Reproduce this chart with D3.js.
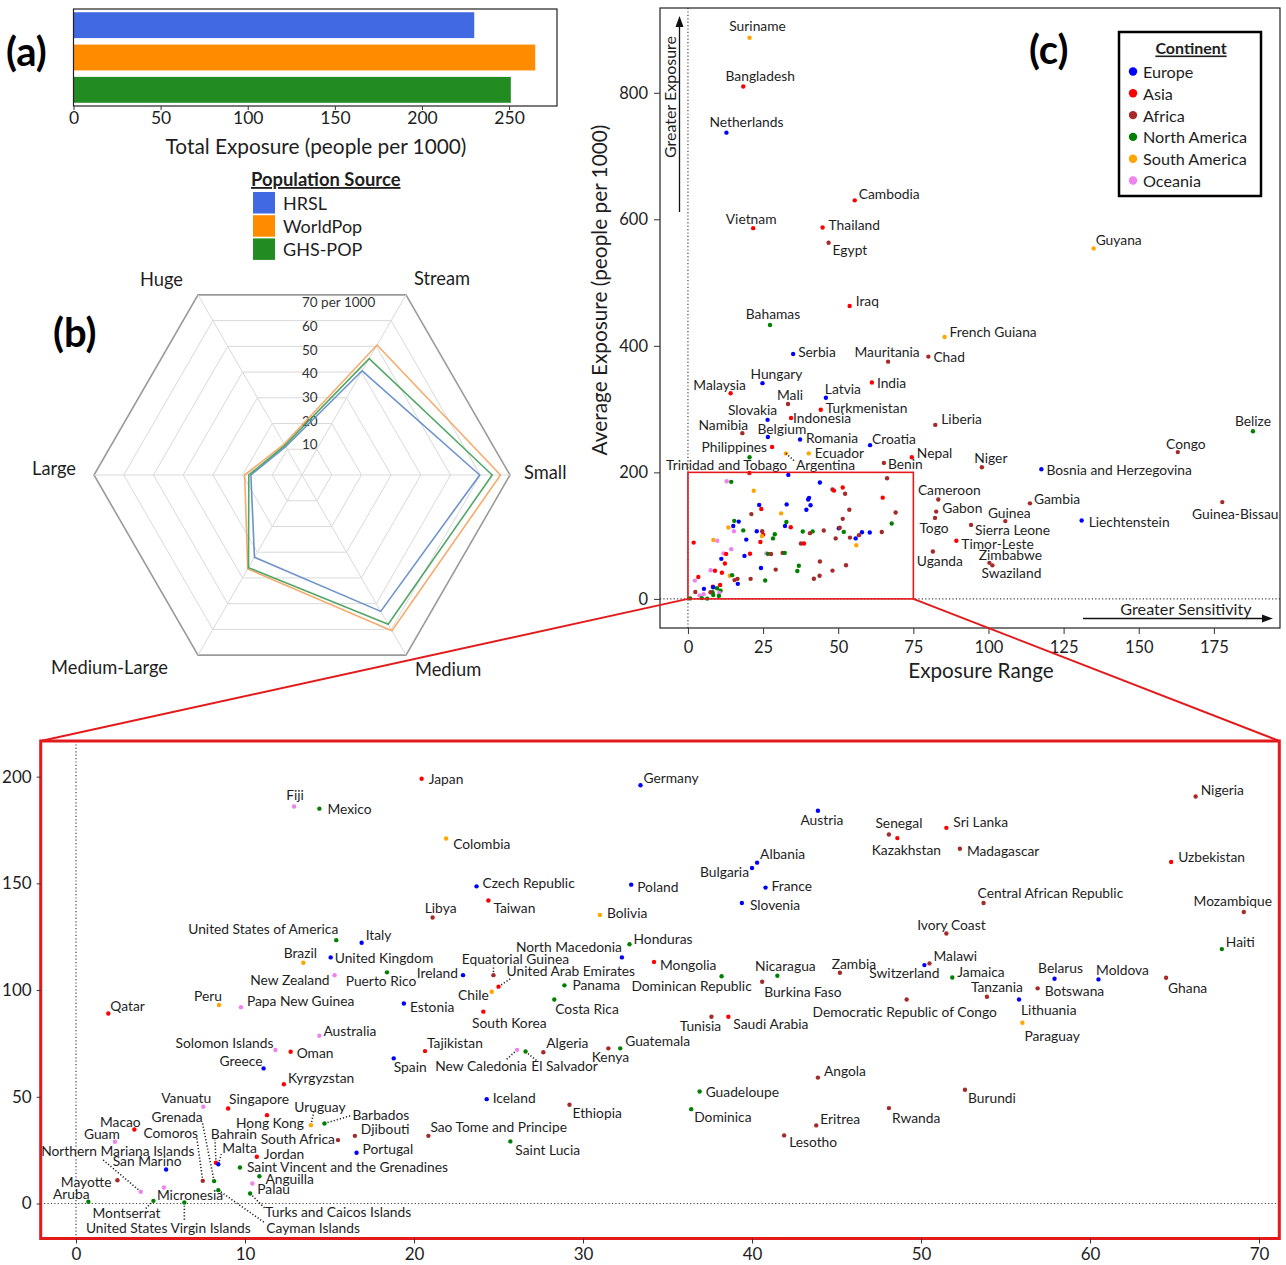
<!DOCTYPE html>
<html>
<head>
<meta charset="utf-8">
<script src="https://cdn.jsdelivr.net/npm/d3@7"></script>
<style>
  body { margin: 0; background: #fff; }
  svg text { font-family: Lato, "Open Sans", sans-serif; }
</style>
</head>
<body>
<svg id="fig" width="1286" height="1265"></svg>
<script>
// ---------- data ----------
var sources = ["HRSL", "WorldPop", "GHS-POP"];
var totalExposure = [230, 265, 251];
var sourceColors = ["#4169e1", "#ff8c00", "#228b22"];

var radarAxes = ["Stream", "Small", "Medium", "Medium-Large", "Large", "Huge"];
var radarTicks = [10, 20, 30, 40, 50, 60, 70];
var radarHRSL = [40.5, 59.8, 53, 32, 17.2, 11];
var radarWorldPop = [50.5, 66.8, 60.5, 36.5, 19.3, 12];
var radarGHS = [45.2, 64, 58, 36, 17.9, 11.5];

var continents = ["Europe", "Asia", "Africa", "North America", "South America", "Oceania"];
var contCodes = ["E", "A", "F", "N", "S", "O"];
var contColors = ["#0000ff", "#ff0000", "#a52a2a", "#008000", "#ffa500", "#ee82ee"];

// [name, continent, exposure range, average exposure]
var outerCountries = [
  ["Suriname","S",20.5,887], ["Bangladesh","A",18.4,810], ["Netherlands","E",12.8,737],
  ["Cambodia","A",55.5,630], ["Vietnam","A",21.7,586], ["Thailand","A",44.8,587],
  ["Egypt","F",46.8,563], ["Guyana","S",135,554], ["Iraq","A",53.8,463],
  ["Bahamas","N",27.3,433], ["French Guiana","S",85.4,414], ["Serbia","E",35,387],
  ["Mauritania","F",66.6,375], ["Chad","F",80,383], ["Hungary","E",24.8,341],
  ["Malaysia","A",14.2,325], ["India","A",61.2,342], ["Mali","F",33.3,308],
  ["Latvia","E",45.9,318], ["Turkmenistan","A",44.2,299], ["Slovakia","E",26.5,283],
  ["Indonesia","A",34.3,286], ["Namibia","F",18.1,262], ["Belgium","E",26.6,256],
  ["Liberia","F",82.3,275], ["Belize","N",188,265], ["Romania","E",37.3,252],
  ["Croatia","E",60.6,243], ["Philippines","A",28,240], ["Congo","F",163,232],
  ["Nepal","A",74.5,224], ["Ecuador","S",40.2,230], ["Trinidad and Tobago","N",20.5,224],
  ["Argentina","S",32.6,230], ["Niger","F",97.8,208], ["Benin","F",65.2,215],
  ["Bosnia and Herzegovina","E",117.6,205], ["Cameroon","F",83.3,157], ["Gambia","F",113.8,151],
  ["Guinea-Bissau","F",177.8,153], ["Gabon","F",82.6,138], ["Guinea","F",105.6,123],
  ["Liechtenstein","E",131,124], ["Togo","F",82.2,128], ["Sierra Leone","F",94.2,117],
  ["Timor-Leste","A",89.3,92], ["Uganda","F",81.5,75], ["Zimbabwe","F",100.3,57],
  ["Swaziland","F",101.3,53]
];

var insetCountries = [
  ["Japan","A",20.45,199], ["Fiji","O",12.9,186], ["Mexico","N",14.4,185],
  ["Libya","F",21.1,134], ["United States of America","N",15.4,123.4], ["Italy","E",16.9,122.2],
  ["Brazil","S",13.45,112.8], ["United Kingdom","E",15.07,115.3], ["New Zealand","O",15.3,107],
  ["Puerto Rico","N",18.4,108.3], ["Ireland","E",22.9,107], ["Qatar","A",1.91,89],
  ["Peru","S",8.46,93], ["Papa New Guinea","O",9.76,92], ["Estonia","E",19.4,93.7],
  ["Australia","O",14.4,78.6], ["Solomon Islands","O",11.8,71.9], ["Oman","A",12.7,71.1],
  ["Tajikistan","A",20.65,71.4], ["Greece","E",11.1,63.3], ["Spain","E",18.8,68],
  ["Kyrgyzstan","A",12.3,55.9], ["Vanuatu","O",7.53,45.3], ["Singapore","A",9.0,44.5],
  ["Uruguay","S",13.9,36.7], ["Barbados","N",14.7,37.5], ["Macao","A",3.45,34.7],
  ["Grenada","N",8.17,10.5], ["Comoros","F",7.5,10.6], ["Bahrain","A",8.28,19.1],
  ["Malta","E",8.42,18.4], ["Hong Kong","A",11.3,41.4], ["Guam","O",2.3,28.9],
  ["South Africa","F",15.5,29.7], ["Djibouti","F",16.5,31.7], ["Sao Tome and Principe","F",20.85,31.7],
  ["Northern Mariana Islands","O",3.83,5.5], ["Jordan","A",10.7,21.9], ["Portugal","E",16.6,23.75],
  ["San Marino","E",5.33,15.9], ["Saint Vincent and the Grenadines","N",9.7,16.9], ["Mayotte","F",2.45,10.9],
  ["Anguilla","N",10.85,12.8], ["Palau","O",10.43,9.4], ["Aruba","N",0.73,0.8],
  ["Micronesia","O",5.2,7.5], ["Montserrat","N",4.58,1.25], ["United States Virgin Islands","N",6.41,0.5],
  ["Turks and Caicos Islands","N",10.3,4.7], ["Cayman Islands","N",8.42,6.25], ["Germany","E",33.4,196],
  ["Austria","E",43.9,184], ["Colombia","S",21.9,171], ["Albania","E",40.3,159.7],
  ["Bulgaria","E",40.0,157.2], ["Czech Republic","E",23.7,148.6], ["Poland","E",32.85,149.4],
  ["France","E",40.8,148], ["Slovenia","E",39.4,140.8], ["Taiwan","A",24.4,142],
  ["Bolivia","S",31.0,135.2], ["Honduras","N",32.75,121.5], ["North Macedonia","E",32.3,115.3],
  ["Mongolia","A",34.2,113.2], ["Equatorial Guinea","F",24.7,107], ["United Arab Emirates","A",25.0,101.6],
  ["Chile","S",24.6,99.2], ["Panama","N",28.9,102.2], ["Dominican Republic","N",38.2,106.5],
  ["Nicaragua","N",41.5,106.7], ["Burkina Faso","F",40.6,103.9], ["Zambia","F",45.2,108.1],
  ["Costa Rica","N",28.3,95.6], ["South Korea","A",24.1,89.9], ["Tunisia","F",37.6,87.5],
  ["Saudi Arabia","A",38.6,87.5], ["New Caledonia","O",26.1,72], ["El Salvador","N",26.6,71.2],
  ["Algeria","F",27.65,70.9], ["Kenya","F",31.5,72.7], ["Guatemala","N",32.2,72.7],
  ["Iceland","E",24.3,48.9], ["Ethiopia","F",29.2,46.3], ["Guadeloupe","N",36.9,52.5],
  ["Dominica","N",36.4,44.2], ["Angola","F",43.9,59], ["Eritrea","F",43.8,36.6],
  ["Lesotho","F",41.9,31.9], ["Saint Lucia","N",25.7,29.1], ["Nigeria","F",66.25,190.7],
  ["Senegal","F",48.1,172.9], ["Kazakhstan","A",48.6,171.2], ["Sri Lanka","A",51.5,176],
  ["Madagascar","F",52.3,166.2], ["Uzbekistan","A",64.8,160], ["Central African Republic","F",53.7,140.8],
  ["Mozambique","F",69.1,136.6], ["Ivory Coast","F",51.5,126.5], ["Haiti","N",67.8,119.2],
  ["Switzerland","E",50.2,111.7], ["Malawi","F",50.5,112.5], ["Jamaica","N",51.85,105.9],
  ["Belarus","E",57.9,105.3], ["Moldova","E",60.5,105], ["Ghana","F",64.5,105.8],
  ["Botswana","F",56.9,100.8], ["Democratic Republic of Congo","F",49.15,95.6], ["Tanzania","F",53.9,96.9],
  ["Lithuania","E",55.8,95.6], ["Paraguay","S",56.0,84.7], ["Burundi","F",52.6,53.3],
  ["Rwanda","F",48.1,44.7]
];

// label placement: anchor, dx, dy, optional leader end dx, dy (pixels from the dot)
var labelPos = {
  "Suriname":"m 8 -12", "Bangladesh":"m 17 -11", "Netherlands":"m 20 -11", "Cambodia":"s 4 -7",
  "Vietnam":"m -2 -10", "Thailand":"s 6 -3", "Egypt":"s 4 7", "Guyana":"s 2 -9", "Iraq":"s 6 -5",
  "Bahamas":"m 3 -11", "French Guiana":"s 5 -5", "Serbia":"s 5 -3", "Mauritania":"m -1 -10",
  "Chad":"s 5 0", "Hungary":"m 14 -10", "Malaysia":"m -11 -9", "India":"s 5 0", "Mali":"m 2 -10",
  "Latvia":"m 17 -9", "Turkmenistan":"s 5 -2", "Slovakia":"m -15 -10", "Indonesia":"s 2 0",
  "Namibia":"m -19 -9", "Belgium":"m 14 -8", "Liberia":"s 6 -6", "Belize":"m 0 -11",
  "Romania":"s 6 -2", "Croatia":"s 2 -7", "Philippines":"e -5 -1", "Congo":"m 8 -9",
  "Nepal":"s 5 -5", "Ecuador":"s 6 -1", "Trinidad and Tobago":"m -23 7", "Argentina":"s 10 11 9 8",
  "Niger":"m 9 -10", "Benin":"s 4 1", "Bosnia and Herzegovina":"s 5 0", "Cameroon":"m 11 -10",
  "Gambia":"s 4 -5", "Guinea-Bissau":"m 13 11", "Gabon":"s 6 -4", "Guinea":"m 4 -9",
  "Liechtenstein":"s 7 1", "Togo":"m -1 10", "Sierra Leone":"s 4 5", "Timor-Leste":"s 5 3",
  "Uganda":"m 7 9", "Zimbabwe":"m 21 -8", "Swaziland":"m 19 7",

  "Japan":"s 7 0", "Fiji":"m 1 -12", "Mexico":"s 8 0", "Libya":"m 8 -10",
  "United States of America":"e 2 -12", "Italy":"s 4 -8", "Brazil":"m -3 -10", "United Kingdom":"s 4 0",
  "New Zealand":"e -5 4", "Puerto Rico":"m -6 8", "Ireland":"e -5 -3", "Qatar":"s 2 -8",
  "Peru":"m -11 -10", "Papa New Guinea":"s 6 -7", "Estonia":"s 6 3", "Australia":"s 4 -5",
  "Solomon Islands":"e -2 -8", "Oman":"s 6 1", "Tajikistan":"s 2 -9", "Greece":"e -1 -8",
  "Spain":"s 0 8", "Kyrgyzstan":"s 4 -7", "Vanuatu":"m -17 -9", "Singapore":"m 31 -10",
  "Hong Kong":"m 3 7", "Uruguay":"m 9 -19 3 -14", "Barbados":"s 28 -9 27 -8", "Macao":"m -14 -8",
  "Guam":"m -13 -8", "Grenada":"m -37 -65 -12 -60", "Comoros":"m -32 -48 -6 -43",
  "Bahrain":"m 18 -29 -1 -23", "Malta":"s 4 -17 3 -10", "South Africa":"e -3 -2",
  "Djibouti":"s 6 -7", "Sao Tome and Principe":"s 2 -9", "Northern Mariana Islands":"m -23 -41 -39 -33",
  "Jordan":"s 7 -3", "Portugal":"s 6 -4", "San Marino":"m -19 -9",
  "Saint Vincent and the Grenadines":"s 7 -1", "Mayotte":"e -6 1", "Anguilla":"s 6 2",
  "Palau":"s 5 5", "Aruba":"m -17 -8", "Micronesia":"s -7 7", "Montserrat":"m -27 12 -8 8",
  "United States Virgin Islands":"m -16 25 0 19", "Turks and Caicos Islands":"s 15 18 15 15",
  "Cayman Islands":"s 48 37 47 33", "Germany":"s 3 -8", "Austria":"m 4 9", "Colombia":"s 7 5",
  "Albania":"s 3 -9", "Bulgaria":"e -3 4", "Czech Republic":"s 6 -4", "Poland":"s 6 2",
  "France":"s 6 -2", "Slovenia":"s 8 2", "Taiwan":"s 5 7", "Bolivia":"s 7 -2", "Honduras":"s 4 -6",
  "North Macedonia":"e 0 -11", "Mongolia":"s 6 3", "Equatorial Guinea":"m 22 -17 0 -10",
  "United Arab Emirates":"s 8 -16 12 -8", "Chile":"e -3 3", "Panama":"s 8 -1",
  "Dominican Republic":"m -30 9", "Nicaragua":"m 8 -10", "Burkina Faso":"s 2 10", "Zambia":"m 14 -9",
  "Costa Rica":"s 1 9", "South Korea":"m 26 11", "Tunisia":"m -11 9", "Saudi Arabia":"s 5 7",
  "New Caledonia":"m -36 16 -11 10", "El Salvador":"m 39 14 11 9", "Algeria":"s 3 -10",
  "Kenya":"m 2 8", "Guatemala":"s 5 -8", "Iceland":"s 6 -2", "Ethiopia":"s 3 8",
  "Guadeloupe":"s 6 0", "Dominica":"s 3 7", "Angola":"s 6 -7", "Eritrea":"s 4 -7",
  "Lesotho":"s 5 6", "Saint Lucia":"s 5 8", "Nigeria":"s 5 -7", "Senegal":"m 10 -12",
  "Kazakhstan":"m 9 11", "Sri Lanka":"s 7 -6", "Madagascar":"s 7 2", "Uzbekistan":"s 7 -6",
  "Central African Republic":"s -6 -10", "Mozambique":"m -11 -11", "Ivory Coast":"m 5 -9",
  "Haiti":"s 4 -8", "Switzerland":"m -20 7", "Malawi":"s 4 -8", "Jamaica":"s 5 -6",
  "Belarus":"m 6 -11", "Moldova":"m 24 -10", "Ghana":"s 2 10", "Botswana":"s 7 2",
  "Democratic Republic of Congo":"m -2 12", "Tanzania":"m 10 -10", "Lithuania":"s 2 10",
  "Paraguay":"s 2 13", "Burundi":"s 3 8", "Rwanda":"s 3 9"
};

// ---------- drawing ----------
var svg = d3.select("#fig");
svg.append("rect").attr("width", 1286).attr("height", 1265).attr("fill", "#fff");
var INK = "#1e1e1e";
var LABEL = 13.8;
var colorOf = d3.scaleOrdinal().domain(contCodes).range(contColors);
var anchorOf = { s: "start", m: "middle", e: "end" };

function styleAxis(g, size) {
  g.attr("font-family", "Lato, 'Open Sans', sans-serif").attr("font-size", size);
  g.selectAll("text").attr("fill", INK);
  g.selectAll(".tick line").attr("stroke", "#333");
  g.select(".domain").remove();
}

function panelLetter(txt, x, y) {
  svg.append("text").attr("x", x).attr("y", y).attr("font-size", 40)
    .attr("font-weight", "bold").attr("fill", "#000").text(txt);
}

// ---- (a) bar chart ----
var xA = d3.scaleLinear().domain([0, 277.5]).range([73.5, 557]);
var yA = d3.scaleBand().domain(sources).range([9, 106]).paddingInner(0.2).paddingOuter(0.1);

svg.append("g").selectAll("rect").data(sources).enter().append("rect")
  .attr("x", xA(0))
  .attr("y", function(d) { return yA(d); })
  .attr("width", function(d, i) { return xA(totalExposure[i]) - xA(0); })
  .attr("height", yA.bandwidth())
  .attr("fill", function(d, i) { return sourceColors[i]; });

svg.append("rect").attr("x", 73.5).attr("y", 9).attr("width", 557 - 73.5).attr("height", 97)
  .attr("fill", "none").attr("stroke", "#222").attr("stroke-width", 1.2);

var axA = svg.append("g").attr("transform", "translate(0,106)")
  .call(d3.axisBottom(xA).tickValues([0, 50, 100, 150, 200, 250]).tickSize(4).tickPadding(2));
styleAxis(axA, 17.5);

svg.append("text").attr("x", 316).attr("y", 154).attr("text-anchor", "middle")
  .attr("font-size", 20.8).attr("fill", INK).text("Total Exposure (people per 1000)");

panelLetter("(a)", 6, 66);

// legend of sources
svg.append("text").attr("x", 251).attr("y", 186).attr("font-size", 18.4).attr("font-weight", "bold")
  .attr("text-decoration", "underline").attr("fill", INK).text("Population Source");
var legA = svg.append("g").selectAll("g").data(sources).enter().append("g")
  .attr("transform", function(d, i) { return "translate(253," + (192 + i * 23.2) + ")"; });
legA.append("rect").attr("width", 22).attr("height", 21.5)
  .attr("fill", function(d, i) { return sourceColors[i]; });
legA.append("text").attr("x", 30).attr("y", 11).attr("dominant-baseline", "central")
  .attr("font-size", 18).attr("fill", INK).text(function(d) { return d; });

// ---- (b) radar ----
var cx = 302, cy = 475;
var rR = d3.scaleLinear().domain([0, 70]).range([0, 208]);
var angles = radarAxes.map(function(d, i) { return Math.PI / 3 - i * Math.PI / 3; });
function pt(v, i) { return [cx + rR(v) * Math.cos(angles[i]), cy - rR(v) * Math.sin(angles[i])]; }
var lineR = d3.line().curve(d3.curveLinearClosed);

var gB = svg.append("g");
radarTicks.forEach(function(v) {
  gB.append("path").attr("d", lineR(radarAxes.map(function(a, i) { return pt(v, i); })))
    .attr("fill", "none").attr("stroke", v === 70 ? "#9a9a9a" : "#d9d9d9")
    .attr("stroke-width", v === 70 ? 1.6 : 1);
});
radarAxes.forEach(function(a, i) {
  var p = pt(70, i);
  gB.append("line").attr("x1", cx).attr("y1", cy).attr("x2", p[0]).attr("y2", p[1])
    .attr("stroke", "#d9d9d9").attr("stroke-width", 1);
});
radarTicks.forEach(function(v) {
  gB.append("text").attr("x", cx).attr("y", cy - 7 - rR(v) * 0.866 * 0.92)
    .attr("dominant-baseline", "central").attr("font-size", 13.5).attr("fill", "#333")
    .text(v === 70 ? "70 per 1000" : v);
});
var radarSeries = [radarHRSL, radarWorldPop, radarGHS];
var radarColors = ["#5d86c6", "#f5a25d", "#3f9d55"];
radarSeries.forEach(function(s, k) {
  gB.append("path").attr("d", lineR(s.map(function(v, i) { return pt(v, i); })))
    .attr("fill", "none").attr("stroke", radarColors[k]).attr("stroke-width", 1.6)
    .attr("stroke-opacity", 0.9);
});
// axis names, offsets from each outer vertex
var radarLabelOff = [[8, -17, "start"], [14, -3, "start"], [9, 14, "start"],
                     [-30, 12, "end"], [-18, -7, "end"], [-15, -16, "end"]];
radarAxes.forEach(function(a, i) {
  var p = pt(70, i), o = radarLabelOff[i];
  gB.append("text").attr("x", p[0] + o[0]).attr("y", p[1] + o[1]).attr("text-anchor", o[2])
    .attr("dominant-baseline", "central").attr("font-size", 18.3).attr("fill", INK).text(a);
});
panelLetter("(b)", 53, 347);

// ---- scatter helpers ----
function drawDots(g, rows, xs, ys) {
  g.selectAll("circle.pt").data(rows).enter().append("circle").attr("class", "pt")
    .attr("cx", function(d) { return xs(d[2]); })
    .attr("cy", function(d) { return ys(d[3]); })
    .attr("r", 2.2)
    .attr("fill", function(d) { return colorOf(d[1]); });
}
function drawLabels(g, rows, xs, ys) {
  rows.forEach(function(d) {
    var p = (labelPos[d[0]] || "s 5 0").split(" ");
    var x = xs(d[2]), y = ys(d[3]);
    if (p.length > 3) {
      g.append("line").attr("x1", x).attr("y1", y)
        .attr("x2", x + (+p[3])).attr("y2", y + (+p[4]))
        .attr("stroke", "#222").attr("stroke-width", 1.6).attr("stroke-dasharray", "1.2,2");
    }
    g.append("text").attr("x", x + (+p[1])).attr("y", y + (+p[2]))
      .attr("text-anchor", anchorOf[p[0]]).attr("dominant-baseline", "central")
      .attr("font-size", LABEL).attr("fill", INK).text(d[0]);
  });
}

// ---- (c) scatter ----
var xC = d3.scaleLinear().domain([-9.3, 197]).range([660, 1280]);
var yC = d3.scaleLinear().domain([-46, 934]).range([628, 8]);
var gC = svg.append("g");

gC.append("line").attr("x1", xC(0)).attr("x2", xC(0)).attr("y1", 8).attr("y2", 628)
  .attr("stroke", "#444").attr("stroke-width", 1.2).attr("stroke-dasharray", "1.2,2.2");
gC.append("line").attr("x1", 660).attr("x2", 1280).attr("y1", yC(0)).attr("y2", yC(0))
  .attr("stroke", "#444").attr("stroke-width", 1.2).attr("stroke-dasharray", "1.2,2.2");

drawDots(gC.append("g"), outerCountries.concat(insetCountries), xC, yC);
drawLabels(gC.append("g"), outerCountries, xC, yC);

gC.append("rect").attr("x", xC(0)).attr("y", yC(200))
  .attr("width", xC(75) - xC(0)).attr("height", yC(0) - yC(200))
  .attr("fill", "none").attr("stroke", "#e31a1c").attr("stroke-width", 1.6);

gC.append("rect").attr("x", 660).attr("y", 8).attr("width", 620).attr("height", 620)
  .attr("fill", "none").attr("stroke", "#222").attr("stroke-width", 1.2);

var axCy = svg.append("g").attr("transform", "translate(660,0)")
  .call(d3.axisLeft(yC).tickValues([0, 200, 400, 600, 800]).tickSize(6).tickPadding(6));
styleAxis(axCy, 16.5);
var axCx = svg.append("g").attr("transform", "translate(0,628)")
  .call(d3.axisBottom(xC).tickValues(d3.range(0, 176, 25)).tickSize(6).tickPadding(7));
styleAxis(axCx, 16.5);

svg.append("text").attr("x", 981).attr("y", 678).attr("text-anchor", "middle")
  .attr("font-size", 20.7).attr("fill", INK).text("Exposure Range");
svg.append("text").attr("transform", "translate(607,290) rotate(-90)").attr("text-anchor", "middle")
  .attr("font-size", 20.8).attr("fill", INK).text("Average Exposure (people per 1000)");

// direction arrows
svg.append("line").attr("x1", 679.5).attr("x2", 679.5).attr("y1", 212).attr("y2", 24)
  .attr("stroke", "#111").attr("stroke-width", 1.3);
svg.append("path").attr("d", "M679.5,16 L675.5,27 L683.5,27 Z").attr("fill", "#111");
svg.append("text").attr("transform", "translate(676,97) rotate(-90)").attr("text-anchor", "middle")
  .attr("font-size", 16).attr("fill", INK).text("Greater Exposure");
svg.append("line").attr("x1", 1083).attr("x2", 1264).attr("y1", 618.5).attr("y2", 618.5)
  .attr("stroke", "#111").attr("stroke-width", 1.3);
svg.append("path").attr("d", "M1273,618.5 L1262,614.5 L1262,622.5 Z").attr("fill", "#111");
svg.append("text").attr("x", 1186).attr("y", 608).attr("text-anchor", "middle")
  .attr("dominant-baseline", "central").attr("font-size", 16.2).attr("fill", INK).text("Greater Sensitivity");

panelLetter("(c)", 1029, 64);

// continent legend
svg.append("rect").attr("x", 1119).attr("y", 32).attr("width", 142).attr("height", 164)
  .attr("fill", "#fff").attr("stroke", "#000").attr("stroke-width", 2.5);
svg.append("text").attr("x", 1191).attr("y", 47).attr("text-anchor", "middle")
  .attr("dominant-baseline", "central").attr("font-size", 16).attr("font-weight", "bold")
  .attr("text-decoration", "underline").attr("fill", INK).text("Continent");
var legC = svg.append("g").selectAll("g").data(continents).enter().append("g")
  .attr("transform", function(d, i) { return "translate(1133," + (71.5 + i * 21.8) + ")"; });
legC.append("circle").attr("r", 4.2).attr("fill", function(d, i) { return contColors[i]; });
legC.append("text").attr("x", 10).attr("dominant-baseline", "central").attr("font-size", 16.2)
  .attr("fill", INK).text(function(d) { return d; });

// ---- inset ----
var xI = d3.scaleLinear().domain([-2.09, 71.2]).range([40.7, 1279.3]);
var yI = d3.scaleLinear().domain([-16.4, 216.7]).range([1238.5, 741]);
var gI = svg.append("g");

gI.append("line").attr("x1", xI(0)).attr("x2", xI(0)).attr("y1", 741).attr("y2", 1238.5)
  .attr("stroke", "#444").attr("stroke-width", 1.2).attr("stroke-dasharray", "1.2,2.2");
gI.append("line").attr("x1", 40.7).attr("x2", 1279.3).attr("y1", yI(0)).attr("y2", yI(0))
  .attr("stroke", "#444").attr("stroke-width", 1.2).attr("stroke-dasharray", "1.2,2.2");

drawLabels(gI.append("g"), insetCountries, xI, yI);
drawDots(gI.append("g"), insetCountries, xI, yI);

var axIy = svg.append("g").attr("transform", "translate(40.7,0)")
  .call(d3.axisLeft(yI).tickValues([0, 50, 100, 150, 200]).tickSize(4).tickPadding(5));
styleAxis(axIy, 17);
var axIx = svg.append("g").attr("transform", "translate(0,1238.5)")
  .call(d3.axisBottom(xI).tickValues(d3.range(0, 71, 10)).tickSize(5).tickPadding(4));
styleAxis(axIx, 17);

gI.append("rect").attr("x", 40.7).attr("y", 741).attr("width", 1279.3 - 40.7).attr("height", 1238.5 - 741)
  .attr("fill", "none").attr("stroke", "#e31a1c").attr("stroke-width", 3);

// zoom connectors
svg.append("line").attr("x1", xC(0)).attr("y1", yC(0)).attr("x2", 40.7).attr("y2", 741)
  .attr("stroke", "#e31a1c").attr("stroke-width", 2);
svg.append("line").attr("x1", xC(75)).attr("y1", yC(0)).attr("x2", 1279.3).attr("y2", 741)
  .attr("stroke", "#e31a1c").attr("stroke-width", 2);
</script>
</body>
</html>
